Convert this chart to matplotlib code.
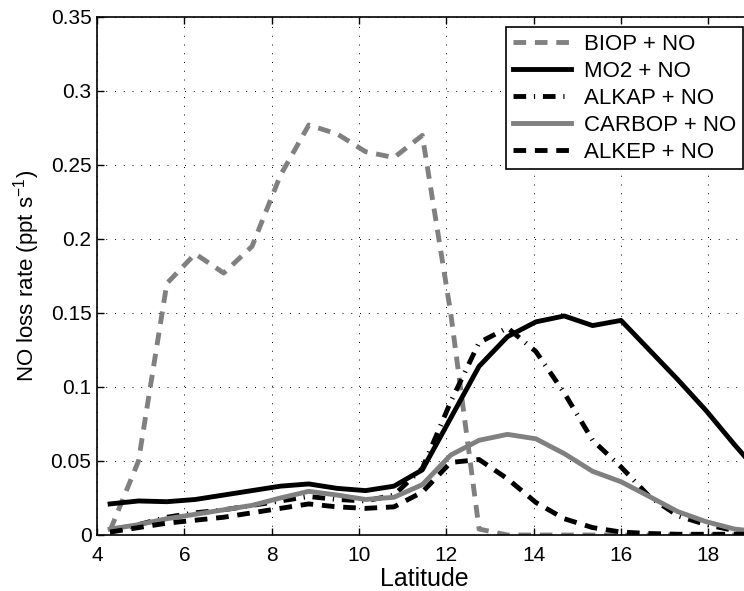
import numpy as np
import matplotlib.pyplot as plt

plt.rcParams['font.family'] = ['Liberation Sans', 'DejaVu Sans']
plt.rcParams['mathtext.fontset'] = 'custom'
plt.rcParams['mathtext.rm'] = 'Liberation Sans'
plt.rcParams['mathtext.it'] = 'Liberation Sans'

# latitude grid of the model output
lat = [4.30, 4.95, 5.60, 6.25, 6.90, 7.55, 8.20, 8.85, 9.50, 10.15, 10.80, 11.45,
       12.10, 12.75, 13.40, 14.05, 14.70, 15.35, 16.00, 16.65, 17.30, 17.95, 18.60, 19.25]

biop = [0.003, 0.050, 0.170, 0.190, 0.177, 0.195, 0.243, 0.277, 0.271, 0.259, 0.255, 0.270,
        0.150, 0.004, 0.000, 0.000, 0.000, 0.000, 0.000, 0.000, 0.000, 0.000, 0.000, 0.000]
mo2 = [0.021, 0.023, 0.0225, 0.024, 0.027, 0.030, 0.033, 0.0345, 0.0315, 0.030, 0.033, 0.044,
       0.079, 0.114, 0.134, 0.144, 0.148, 0.1415, 0.145, 0.125, 0.105, 0.084, 0.061, 0.039]
alkap = [0.002, 0.007, 0.012, 0.015, 0.017, 0.020, 0.023, 0.026, 0.024, 0.023, 0.027, 0.045,
         0.090, 0.130, 0.140, 0.124, 0.096, 0.064, 0.046, 0.026, 0.013, 0.007, 0.003, 0.001]
carbop = [0.004, 0.007, 0.011, 0.014, 0.017, 0.020, 0.025, 0.0295, 0.027, 0.024, 0.0255, 0.034,
          0.054, 0.064, 0.068, 0.065, 0.055, 0.043, 0.036, 0.026, 0.0158, 0.009, 0.004, 0.002]
alkep = [0.002, 0.005, 0.008, 0.010, 0.012, 0.015, 0.018, 0.021, 0.019, 0.018, 0.019, 0.029,
         0.049, 0.051, 0.038, 0.022, 0.011, 0.005, 0.002, 0.001, 0.0005, 0.0005, 0.0005, 0.0005]

grey = '#808080'
lw = 3.5

fig = plt.figure(figsize=(7.44, 5.91), dpi=100)
# axes runs past the right edge of the figure like in the original
ax = fig.add_axes([97/744, 56/591, 655/744, 518/591])

ax.plot(lat, biop, color=grey, lw=lw, dashes=(2.6, 1.8), label='BIOP + NO')
ax.plot(lat, mo2, color='black', lw=lw, label='MO2 + NO')
ax.plot(lat, alkap, color='black', lw=lw, dashes=(2.6, 1.6, 0.25, 1.6),
        dash_capstyle='butt', label='ALKAP + NO')
ax.plot(lat, carbop, color=grey, lw=lw, label='CARBOP + NO')
ax.plot(lat, alkep, color='black', lw=lw, dashes=(2.6, 1.8), label='ALKEP + NO')

ax.set_xlim(4, 19)
ax.set_ylim(0, 0.35)
ax.set_xticks([4, 6, 8, 10, 12, 14, 16, 18])
ax.set_yticks([0, 0.05, 0.1, 0.15, 0.2, 0.25, 0.3, 0.35])
ax.set_yticklabels(['0', '0.05', '0.1', '0.15', '0.2', '0.25', '0.3', '0.35'])
ax.tick_params(direction='in', length=5, width=1, labelsize=15, top=True, right=True)
ax.tick_params(axis='y', pad=4)
ax.tick_params(axis='x', pad=8)
ax.grid(True, linestyle=(0, (1, 8)), color='black', lw=0.7)
for s in ax.spines.values():
    s.set_linewidth(1.2)

ax.set_xlabel('Latitude', fontsize=18, labelpad=1)
ax.set_ylabel('NO loss rate (ppt s$^{-1}$)', fontsize=16, labelpad=6)

leg = ax.legend(loc='upper right', bbox_to_anchor=(743/744, 1 - 27/591),
                bbox_transform=fig.transFigure, fontsize=16, frameon=True,
                fancybox=False, framealpha=1, edgecolor='black',
                handlelength=2.6, handletextpad=0.6, labelspacing=0.27,
                borderpad=0.3, borderaxespad=0)
leg.get_frame().set_linewidth(1.2)

fig.savefig('out.png', dpi=100)
